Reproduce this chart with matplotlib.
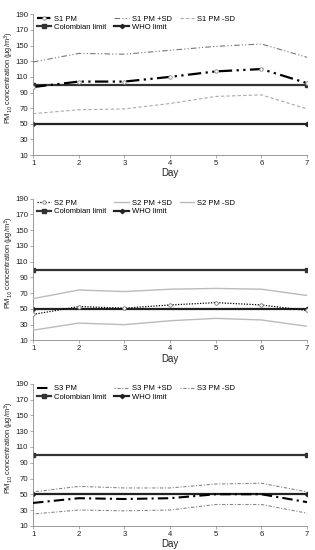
import matplotlib
matplotlib.use("Agg")
import matplotlib.pyplot as plt

plt.rcParams['font.family'] = ['Liberation Sans', 'DejaVu Sans']

days = [1, 2, 3, 4, 5, 6, 7]
limit_days = [1, 7]
colombian_limit = [100, 100]
who_limit = [50, 50]

s1_pm = [97, 104, 104, 110, 117, 120, 102]
s1_plus = [129, 140, 139, 144, 149, 152, 135]
s1_minus = [63, 68, 69, 76, 85, 87, 69]

s2_pm = [43, 53, 51, 55, 58, 55, 48]
s2_plus = [63, 74, 72, 75, 76, 75, 67]
s2_minus = [23, 32, 30, 35, 38, 36, 28]

s3_pm = [39, 45, 44, 45, 50, 50, 40]
s3_plus = [53, 60, 58, 58, 63, 64, 53]
s3_minus = [25, 30, 29, 30, 37, 37, 26]

yticks = list(range(10, 191, 20))

fig = plt.figure(figsize=(3.15, 5.5), dpi=100)

positions = [
    [0.105, 0.718, 0.870, 0.256],
    [0.105, 0.381, 0.870, 0.258],
    [0.105, 0.044, 0.870, 0.258],
]

ddd = (0, (6, 2, 1, 2, 1, 2))

styles = [
    dict(name="S1", pm=s1_pm, plus=s1_plus, minus=s1_minus,
         pm_kw=dict(color='black', lw=1.6, ls=ddd, marker='o', ms=2.5, mfc='white', mec='#888888', mew=0.6),
         plus_kw=dict(color='#777777', lw=0.8, ls=(0, (5, 2, 1, 2, 1, 2))),
         minus_kw=dict(color='#aaaaaa', lw=0.8, ls=(0, (3, 2)))),
    dict(name="S2", pm=s2_pm, plus=s2_plus, minus=s2_minus,
         pm_kw=dict(color='black', lw=0.9, ls=(0, (1, 1.2)), marker='o', ms=2.5, mfc='white', mec='#777777', mew=0.6),
         plus_kw=dict(color='#bbbbbb', lw=1.0, ls='-'),
         minus_kw=dict(color='#bbbbbb', lw=1.0, ls='-')),
    dict(name="S3", pm=s3_pm, plus=s3_plus, minus=s3_minus,
         pm_kw=dict(color='black', lw=1.5, ls=(0, (5, 2, 1, 2)), marker=None),
         plus_kw=dict(color='#888888', lw=0.8, ls=(0, (1, 1.5, 3, 1.5))),
         minus_kw=dict(color='#888888', lw=0.8, ls=(0, (1, 1.5, 3, 1.5)))),
]

for pos, st in zip(positions, styles):
    ax = fig.add_axes(pos)
    h_pm, = ax.plot(days, st['pm'], label=f"{st['name']} PM", zorder=4, **st['pm_kw'])
    h_plus, = ax.plot(days, st['plus'], label=f"{st['name']} PM +SD", zorder=3, **st['plus_kw'])
    h_minus, = ax.plot(days, st['minus'], label=f"{st['name']} PM -SD", zorder=3, **st['minus_kw'])
    h_col, = ax.plot(limit_days, colombian_limit, color='#333333', lw=1.6, marker='s', ms=2.2,
                     label="Colombian limit", zorder=2)
    h_who, = ax.plot(limit_days, who_limit, color='#222222', lw=1.6, marker='D', ms=2.2,
                     label="WHO limit", zorder=2)
    ax.set_xlim(1, 7)
    ax.set_ylim(10, 190)
    ax.set_yticks(yticks)
    ax.set_xticks(days)
    for sp in ['top', 'right']:
        ax.spines[sp].set_visible(False)
    for sp in ['left', 'bottom']:
        ax.spines[sp].set_color('#888888')
        ax.spines[sp].set_linewidth(0.6)
    ax.tick_params(labelsize=5.6, length=2, width=0.5, color='#888888', pad=1.5, labelcolor='#222222')
    ax.set_xlabel("Day", fontsize=7, labelpad=1, color='#222222')
    ax.set_ylabel("PM$_{10}$ concentration (µg/m$^3$)", fontsize=5.3, color='#222222',
                  va='center')
    ax.yaxis.set_label_coords(-0.087, 0.55)
    handles = [h_pm, h_col, h_plus, h_who, h_minus]
    ax.legend(handles=handles, loc='upper left', ncol=3, frameon=False, fontsize=5.5,
              handlelength=1.9, handletextpad=0.4, columnspacing=1.0, labelspacing=0.15,
              borderaxespad=0.1, bbox_to_anchor=(0.0, 1.02))

fig.savefig("out.png", dpi=100)
